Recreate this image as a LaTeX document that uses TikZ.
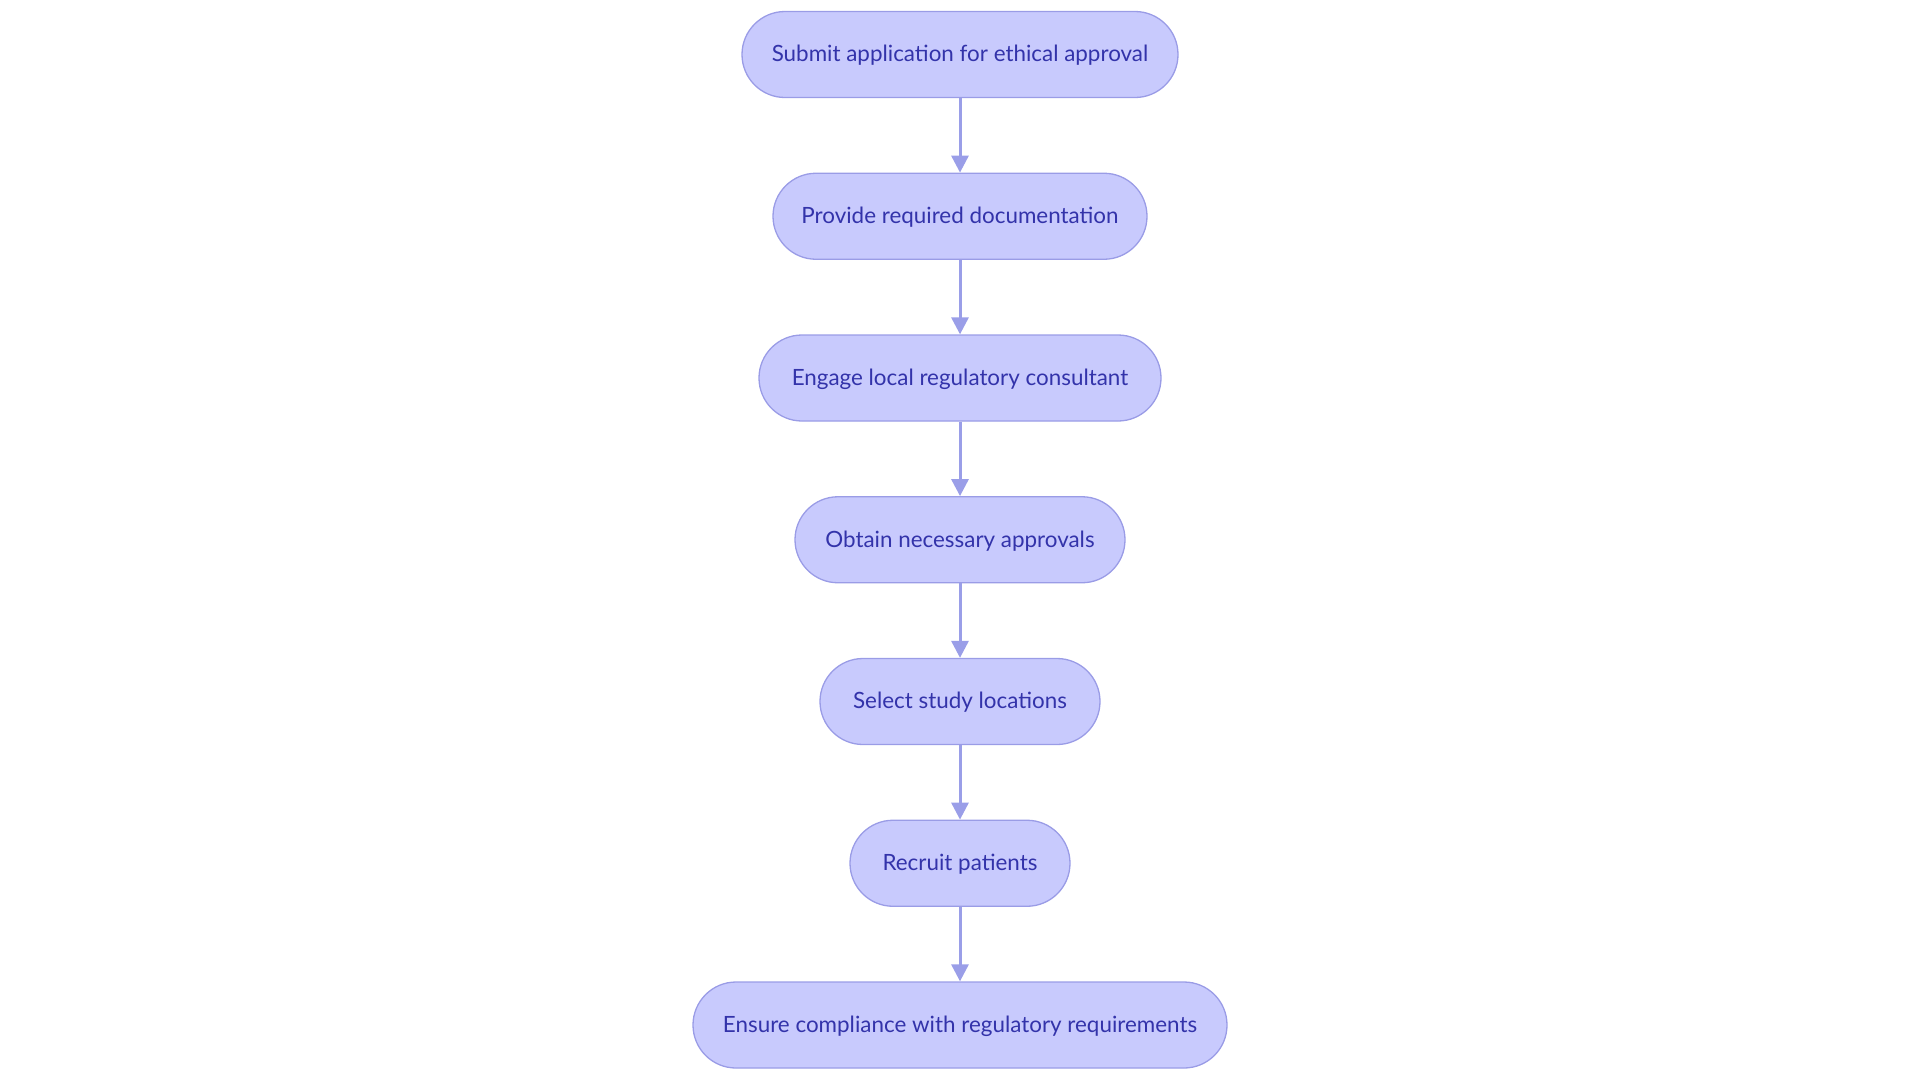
\documentclass[tikz,border=0pt]{standalone}
\usepackage{fontspec}
\setmainfont{Lato}
\usetikzlibrary{arrows.meta}
\definecolor{boxfill}{HTML}{C8CAFD}
\definecolor{boxline}{HTML}{9A9CE6}
\definecolor{boxtext}{HTML}{3333AA}
\definecolor{arrowc}{HTML}{9A9EE8}
\tikzset{
  stepbox/.style={draw=boxline, fill=boxfill, line width=1.3pt, rounded corners=43pt,
    minimum height=86pt, inner sep=0pt, text=boxtext, text depth=2pt, font=\fontsize{22.4}{26}\selectfont},
  flow/.style={draw=arrowc, line width=3pt, -{Triangle[width=17pt,length=17pt]}}
}
\begin{document}
\begin{tikzpicture}[x=1pt,y=-1pt]
\useasboundingbox (0,0) rectangle (1920,1080);
\node[stepbox, minimum width=436pt] (n1) at (960,54.5) {Submit application for ethical approval};
\node[stepbox, minimum width=374pt] (n2) at (960,216.25) {Provide required documentation};
\node[stepbox, minimum width=402pt] (n3) at (960,378) {Engage local regulatory consultant};
\node[stepbox, minimum width=330pt] (n4) at (960,539.75) {Obtain necessary approvals};
\node[stepbox, minimum width=280pt] (n5) at (960,701.5) {Select study locations};
\node[stepbox, minimum width=220pt] (n6) at (960,863.25) {Recruit patients};
\node[stepbox, minimum width=534pt] (n7) at (960,1025) {Ensure compliance with regulatory requirements};
\draw[flow] (n1) -- (n2);
\draw[flow] (n2) -- (n3);
\draw[flow] (n3) -- (n4);
\draw[flow] (n4) -- (n5);
\draw[flow] (n5) -- (n6);
\draw[flow] (n6) -- (n7);
\end{tikzpicture}
\end{document}
